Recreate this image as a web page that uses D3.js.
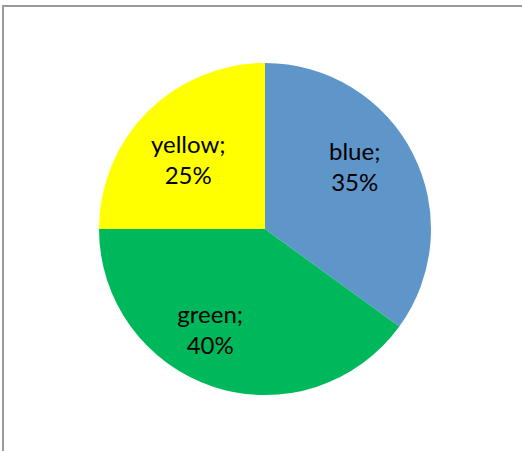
<!DOCTYPE html>
<html>
<head>
<meta charset="utf-8">
<script src="https://cdn.jsdelivr.net/npm/d3@7"></script>
<style>
  html, body { margin: 0; padding: 0; background: #fff; }
  svg { display: block; }
</style>
</head>
<body>
<svg id="chart" width="522" height="451"></svg>
<script>
const categories = ["blue", "green", "yellow"];
const values = [35, 40, 25];
const colors = ["#5f96ca", "#00b85c", "#ffff00"];

// label nudges (layout only)
const labelNudge = {
  blue:   [-2, -14],
  green:  [-23, 5],
  yellow: [-4, 5]
};

const svg = d3.select("#chart");

// chart border (extends beyond the visible area on right/bottom)
svg.append("rect")
  .attr("x", 3).attr("y", 6)
  .attr("width", 540).attr("height", 470)
  .attr("fill", "#fff")
  .attr("stroke", "#999").attr("stroke-width", 2);

const cx = 265, cy = 229, R = 166;
const data = categories.map((c, i) => ({ name: c, value: values[i], color: colors[i] }));
const total = d3.sum(values);

const pie = d3.pie().sort(null).value(d => d.value).startAngle(0).endAngle(2 * Math.PI);
const arc = d3.arc().innerRadius(0).outerRadius(R);
const labelArc = d3.arc().innerRadius(R * 0.62).outerRadius(R * 0.62);

const g = svg.append("g").attr("transform", `translate(${cx},${cy})`);
const arcs = pie(data);

g.selectAll("path.slice").data(arcs).join("path")
  .attr("class", "slice")
  .attr("d", arc)
  .attr("fill", d => d.data.color);

const lineH = 31;
const labels = g.selectAll("text.lbl").data(arcs).join("text")
  .attr("class", "lbl")
  .attr("text-anchor", "middle")
  .attr("font-family", "Lato, 'Open Sans', sans-serif")
  .attr("font-size", 24)
  .attr("fill", "#000")
  .attr("transform", d => {
    const [x, y] = labelArc.centroid(d);
    const n = labelNudge[d.data.name];
    return `translate(${x + n[0]},${y + n[1]})`;
  });

labels.append("tspan")
  .attr("x", 0).attr("y", -lineH / 2 + 7)
  .text(d => d.data.name + ";");
labels.append("tspan")
  .attr("x", 0).attr("y", lineH / 2 + 7)
  .text(d => Math.round(d.data.value / total * 100) + "%");
</script>
</body>
</html>
